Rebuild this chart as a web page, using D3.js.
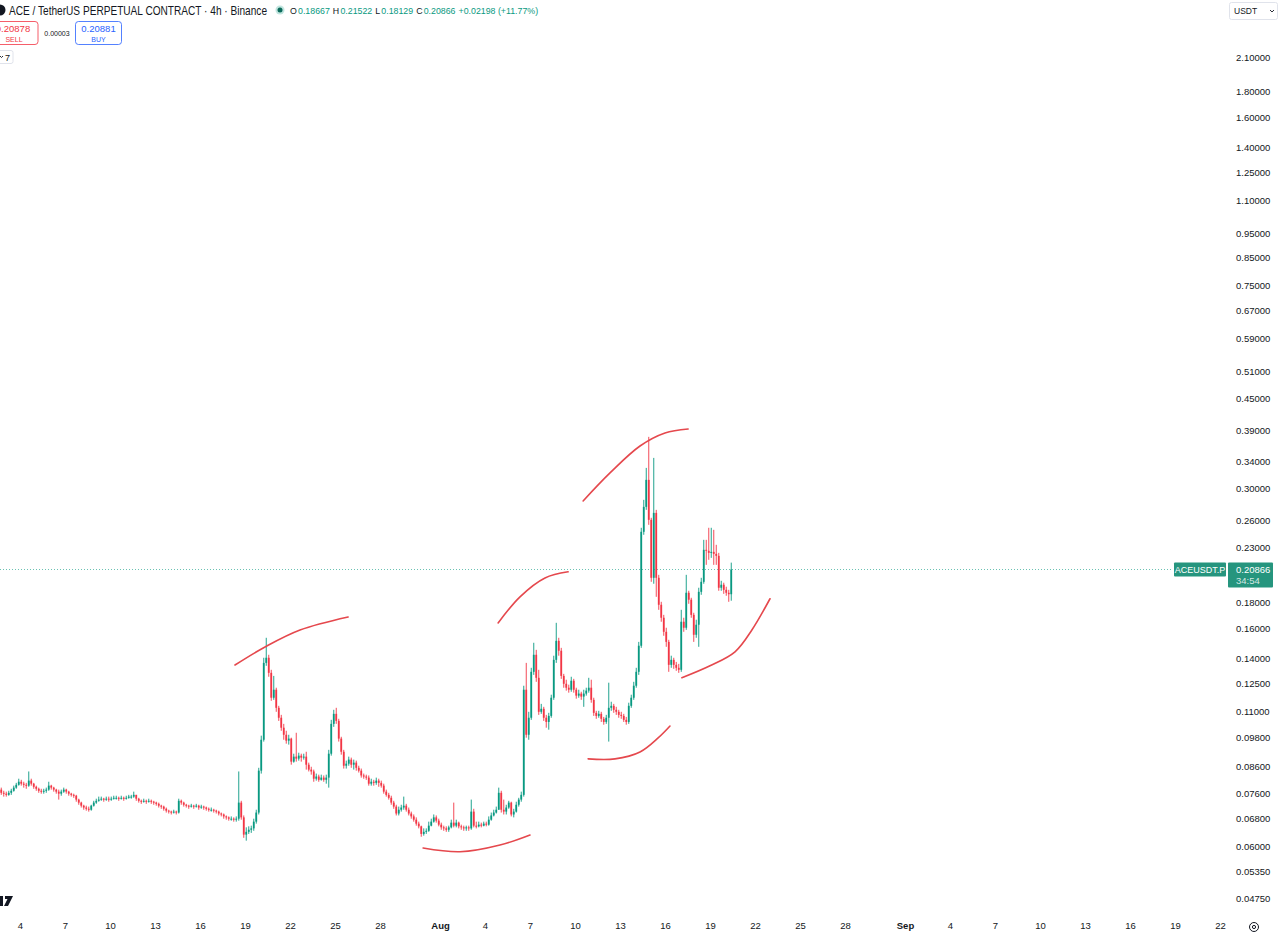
<!DOCTYPE html>
<html>
<head>
<meta charset="utf-8">
<script src="https://cdn.jsdelivr.net/npm/d3@7"></script>
<style>
  body { margin: 0; background: #fff; overflow: hidden; }
  svg { display: block; font-family: "Liberation Sans", Arial, sans-serif; }
</style>
</head>
<body>
<svg id="vis"></svg>
<script>
  const W = 1280, H = 935

  // 4h candles, first one opens Jul 2 16:00 (UTC)
  const firstCandle = '2024-07-02T16:00Z'
  const firstOpen = 0.0774
  const closes = [
    0.0763,0.0760,0.0756,0.0763,0.0770,0.0781,0.0791,0.0802,0.0795,0.0791,
    0.0788,0.0806,0.0795,0.0784,0.0777,0.0770,0.0767,0.0770,0.0774,0.0788,
    0.0781,0.0774,0.0767,0.0760,0.0767,0.0774,0.0767,0.0760,0.0756,0.0753,
    0.0740,0.0730,0.0720,0.0714,0.0710,0.0707,0.0720,0.0730,0.0736,0.0740,
    0.0743,0.0740,0.0743,0.0740,0.0743,0.0746,0.0746,0.0743,0.0746,0.0743,
    0.0746,0.0750,0.0750,0.0756,0.0743,0.0736,0.0733,0.0736,0.0733,0.0736,
    0.0733,0.0730,0.0726,0.0720,0.0717,0.0710,0.0704,0.0701,0.0698,0.0701,
    0.0698,0.0736,0.0730,0.0723,0.0720,0.0717,0.0720,0.0717,0.0720,0.0714,
    0.0717,0.0714,0.0710,0.0707,0.0707,0.0704,0.0701,0.0695,0.0692,0.0686,
    0.0683,0.0679,0.0679,0.0676,0.0679,0.0730,0.0683,0.0632,0.0640,0.0646,
    0.0650,0.0670,0.0698,0.0843,0.0969,0.1370,0.1402,0.1310,0.1171,0.1214,
    0.1119,0.1070,0.1023,0.0991,0.0965,0.0974,0.0878,0.0898,0.0890,0.0902,
    0.0894,0.0898,0.0866,0.0847,0.0840,0.0813,0.0821,0.0809,0.0817,0.0809,
    0.0817,0.0910,0.1041,0.1089,0.1055,0.0974,0.0918,0.0862,0.0870,0.0886,
    0.0866,0.0874,0.0854,0.0843,0.0825,0.0821,0.0817,0.0795,0.0802,0.0798,
    0.0806,0.0798,0.0788,0.0767,0.0756,0.0746,0.0730,0.0717,0.0695,0.0707,
    0.0714,0.0720,0.0707,0.0695,0.0686,0.0676,0.0664,0.0656,0.0634,0.0640,
    0.0643,0.0658,0.0670,0.0683,0.0673,0.0661,0.0653,0.0650,0.0646,0.0653,
    0.0667,0.0658,0.0667,0.0656,0.0653,0.0650,0.0653,0.0650,0.0701,0.0658,
    0.0656,0.0661,0.0658,0.0664,0.0661,0.0676,0.0689,0.0698,0.0707,0.0763,
    0.0707,0.0701,0.0714,0.0730,0.0692,0.0701,0.0723,0.0740,0.0756,0.1214,
    0.0991,0.1070,0.1316,0.1421,0.1281,0.1099,0.1114,0.1070,0.1050,0.1079,
    0.1171,0.1389,0.1513,0.1447,0.1292,0.1247,0.1225,0.1214,0.1264,0.1214,
    0.1182,0.1193,0.1177,0.1193,0.1209,0.1225,0.1160,0.1094,0.1079,0.1089,
    0.1065,0.1050,0.1070,0.1119,0.1129,0.1109,0.1099,0.1084,0.1079,0.1060,
    0.1050,0.1129,0.1171,0.1236,0.1316,0.1480,0.2473,0.2767,0.3125,0.2610,
    0.2010,0.2693,0.2010,0.1780,0.1679,0.1576,0.1506,0.1358,0.1389,0.1358,
    0.1340,0.1328,0.1649,0.1605,0.1879,0.1821,0.1701,0.1555,0.1627,0.1887,
    0.1974,0.2280,0.2270,0.2249,0.2259,0.2239,0.2219,0.1922,0.1948,0.1904,
    0.1879,0.18667,0.20866
  ]
  const highs = [
    0.0781,0.0770,0.0767,0.0770,0.0777,0.0788,0.0798,0.0813,0.0809,0.0802,
    0.0798,0.0840,0.0813,0.0798,0.0788,0.0781,0.0777,0.0777,0.0781,0.0802,
    0.0791,0.0784,0.0777,0.0774,0.0774,0.0781,0.0777,0.0770,0.0763,0.0760,
    0.0756,0.0743,0.0733,0.0723,0.0720,0.0717,0.0723,0.0736,0.0743,0.0750,
    0.0750,0.0746,0.0750,0.0750,0.0750,0.0753,0.0753,0.0750,0.0753,0.0750,
    0.0753,0.0756,0.0756,0.0767,0.0756,0.0746,0.0740,0.0743,0.0740,0.0743,
    0.0740,0.0736,0.0733,0.0730,0.0723,0.0720,0.0714,0.0707,0.0704,0.0707,
    0.0704,0.0743,0.0740,0.0733,0.0726,0.0723,0.0726,0.0723,0.0726,0.0723,
    0.0723,0.0720,0.0717,0.0714,0.0714,0.0710,0.0707,0.0704,0.0698,0.0695,
    0.0689,0.0686,0.0686,0.0683,0.0686,0.0840,0.0736,0.0689,0.0653,0.0656,
    0.0658,0.0679,0.0707,0.0854,0.0987,0.1402,0.1534,0.1421,0.1328,0.1292,
    0.1225,0.1129,0.1084,0.1041,0.1009,0.0991,0.0978,0.0910,0.1000,0.0914,
    0.0910,0.0910,0.0918,0.0874,0.0858,0.0847,0.0832,0.0828,0.0828,0.0825,
    0.0828,0.0926,0.1060,0.1109,0.1119,0.1065,0.0982,0.0926,0.0882,0.0898,
    0.0894,0.0886,0.0882,0.0862,0.0851,0.0832,0.0828,0.0825,0.0813,0.0809,
    0.0817,0.0813,0.0806,0.0795,0.0774,0.0763,0.0753,0.0736,0.0723,0.0717,
    0.0723,0.0750,0.0726,0.0714,0.0701,0.0692,0.0683,0.0670,0.0658,0.0650,
    0.0650,0.0670,0.0679,0.0692,0.0689,0.0679,0.0667,0.0658,0.0656,0.0658,
    0.0676,0.0730,0.0676,0.0670,0.0661,0.0658,0.0658,0.0658,0.0740,0.0710,
    0.0670,0.0670,0.0667,0.0670,0.0670,0.0686,0.0698,0.0707,0.0717,0.0781,
    0.0770,0.0740,0.0723,0.0736,0.0733,0.0710,0.0733,0.0746,0.0767,0.1236,
    0.1370,0.1099,0.1340,0.1500,0.1453,0.1328,0.1139,0.1124,0.1084,0.1094,
    0.1187,0.1415,0.1641,0.1534,0.1466,0.1304,0.1270,0.1242,0.1287,0.1275,
    0.1225,0.1214,0.1203,0.1214,0.1225,0.1281,0.1270,0.1171,0.1104,0.1104,
    0.1099,0.1074,0.1084,0.1253,0.1150,0.1139,0.1124,0.1109,0.1099,0.1089,
    0.1074,0.1145,0.1187,0.1258,0.1340,0.1506,0.2518,0.2856,0.3298,0.3793,
    0.2634,0.3450,0.2730,0.2037,0.1804,0.1701,0.1605,0.1520,0.1415,0.1402,
    0.1376,0.1364,0.1740,0.1679,0.2037,0.1896,0.1837,0.1717,0.1664,0.1922,
    0.2010,0.2385,0.2385,0.2518,0.2518,0.2495,0.2332,0.2249,0.1983,0.1966,
    0.1931,0.1904,0.21522
  ]
  const lows = [
    0.0756,0.0750,0.0750,0.0753,0.0756,0.0767,0.0777,0.0788,0.0788,0.0781,
    0.0777,0.0784,0.0788,0.0777,0.0770,0.0763,0.0760,0.0760,0.0763,0.0770,
    0.0774,0.0767,0.0760,0.0740,0.0753,0.0763,0.0760,0.0753,0.0750,0.0746,
    0.0733,0.0723,0.0714,0.0707,0.0704,0.0701,0.0704,0.0717,0.0726,0.0733,
    0.0736,0.0733,0.0736,0.0733,0.0736,0.0740,0.0740,0.0736,0.0740,0.0736,
    0.0740,0.0743,0.0743,0.0746,0.0736,0.0730,0.0726,0.0730,0.0726,0.0730,
    0.0726,0.0723,0.0720,0.0714,0.0710,0.0704,0.0698,0.0695,0.0692,0.0695,
    0.0692,0.0695,0.0723,0.0717,0.0714,0.0710,0.0714,0.0710,0.0714,0.0707,
    0.0710,0.0707,0.0704,0.0701,0.0701,0.0698,0.0695,0.0689,0.0686,0.0679,
    0.0676,0.0673,0.0673,0.0670,0.0670,0.0673,0.0676,0.0623,0.0615,0.0634,
    0.0637,0.0643,0.0664,0.0692,0.0832,0.0961,0.1352,0.1287,0.1155,0.1160,
    0.1099,0.1055,0.1009,0.0969,0.0952,0.0948,0.0866,0.0874,0.0878,0.0882,
    0.0878,0.0886,0.0847,0.0840,0.0828,0.0802,0.0806,0.0802,0.0806,0.0802,
    0.0795,0.0781,0.0902,0.1027,0.1041,0.0961,0.0906,0.0851,0.0851,0.0862,
    0.0854,0.0847,0.0843,0.0836,0.0817,0.0813,0.0809,0.0788,0.0788,0.0788,
    0.0791,0.0784,0.0781,0.0760,0.0750,0.0740,0.0723,0.0710,0.0689,0.0689,
    0.0701,0.0707,0.0701,0.0689,0.0679,0.0670,0.0658,0.0650,0.0626,0.0629,
    0.0634,0.0640,0.0656,0.0667,0.0667,0.0656,0.0646,0.0643,0.0640,0.0640,
    0.0650,0.0653,0.0653,0.0650,0.0646,0.0643,0.0643,0.0643,0.0646,0.0653,
    0.0650,0.0653,0.0653,0.0656,0.0656,0.0658,0.0673,0.0686,0.0695,0.0707,
    0.0698,0.0692,0.0692,0.0710,0.0686,0.0683,0.0698,0.0717,0.0733,0.0750,
    0.0978,0.0969,0.1060,0.1298,0.1258,0.1084,0.1089,0.1055,0.1023,0.1014,
    0.1070,0.1160,0.1370,0.1415,0.1275,0.1225,0.1209,0.1198,0.1203,0.1198,
    0.1166,0.1171,0.1160,0.1124,0.1182,0.1198,0.1145,0.1079,0.1065,0.1070,
    0.1050,0.1037,0.1041,0.0961,0.1104,0.1094,0.1084,0.1070,0.1065,0.1050,
    0.1037,0.1041,0.1119,0.1160,0.1225,0.1298,0.1466,0.2440,0.2730,0.2552,
    0.1974,0.1957,0.1845,0.1740,0.1649,0.1548,0.1473,0.1316,0.1340,0.1334,
    0.1322,0.1310,0.1316,0.1576,0.1590,0.1788,0.1679,0.1506,0.1534,0.1473,
    0.1862,0.1957,0.2131,0.2180,0.2199,0.2131,0.2131,0.1896,0.1896,0.1870,
    0.1854,0.1804,0.18129
  ]

  // header legend of the last candle
  const legendOHLC = [['O', '0.18667'], ['H', '0.21522'], ['L', '0.18129'], ['C', '0.20866']]
  const legendChange = '+0.02198 (+11.77%)'
  const sellPrice = '0.20878', buyPrice = '0.20881', spread = '0.00003'

  // right price scale labels
  const priceTicks = [2.1, 1.8, 1.6, 1.4, 1.25, 1.1, 0.95, 0.85, 0.75, 0.67, 0.59, 0.51, 0.45,
    0.39, 0.34, 0.30, 0.26, 0.23, 0.18, 0.16, 0.14, 0.125, 0.11, 0.098, 0.086, 0.076,
    0.068, 0.06, 0.0535, 0.0475]
  // time scale labels
  const dateTicks = ['2024-07-04','2024-07-07','2024-07-10','2024-07-13','2024-07-16','2024-07-19',
    '2024-07-22','2024-07-25','2024-07-28','2024-08-01','2024-08-04','2024-08-07','2024-08-10',
    '2024-08-13','2024-08-16','2024-08-19','2024-08-22','2024-08-25','2024-08-28','2024-09-01',
    '2024-09-04','2024-09-07','2024-09-10','2024-09-13','2024-09-16','2024-09-19','2024-09-22']

  // hand drawn red arcs [time, price]
  const arcs = [
    [['2024-07-18T08:00Z',0.1357],['2024-07-20T08:00Z',0.1472],['2024-07-22T16:00Z',0.1589],['2024-07-25T21:00Z',0.1685]],
    [['2024-07-30T21:00Z',0.0595],['2024-08-02T08:00Z',0.0585],['2024-08-05T00:00Z',0.0603],['2024-08-07T00:00Z',0.0631]],
    [['2024-08-04T21:00Z',0.164],['2024-08-06T08:00Z',0.1845],['2024-08-08T00:00Z',0.2009],['2024-08-09T13:00Z',0.2065]],
    [['2024-08-10T13:00Z',0.2842],['2024-08-12T08:00Z',0.3224],['2024-08-14T08:00Z',0.364],['2024-08-16T00:00Z',0.386],['2024-08-17T13:00Z',0.393]],
    [['2024-08-10T21:00Z',0.0889],['2024-08-12T16:00Z',0.0889],['2024-08-14T08:00Z',0.0917],['2024-08-15T13:00Z',0.0977],['2024-08-16T08:00Z',0.1031]],
    [['2024-08-17T03:00Z',0.1281],['2024-08-19T00:00Z',0.1352],['2024-08-20T16:00Z',0.144],['2024-08-21T19:00Z',0.1589],['2024-08-23T00:00Z',0.1829]]
  ]

  const lastPrice = 0.20866
  const upColor = '#089981', downColor = '#f23645', textColor = '#131722'

  var svg = d3.select('#vis').attr('width', W).attr('height', H)

  var x = d3.scaleUtc()
    .domain([new Date('2024-07-04T00:00Z'), new Date('2024-09-22T00:00Z')])
    .range([20, 1220])
  var y = d3.scaleLog()
    .domain([0.0475, 2.1])
    .range([898, 57])

  const step = 4 * 3600e3
  const t0 = new Date(firstCandle).getTime()
  var candles = closes.map(function (c, i) {
    var o = i ? closes[i - 1] : firstOpen
    return {
      t: new Date(t0 + i * step + step / 2),
      o: o, c: c,
      h: Math.max(highs[i], o, c),
      l: Math.min(lows[i], o, c)
    }
  })

  svg.append('clipPath').attr('id', 'plot')
    .append('rect').attr('x', 0).attr('y', 0).attr('width', 1226).attr('height', 912)

  var plot = svg.append('g').attr('clip-path', 'url(#plot)')

  // last price dotted line
  plot.append('line')
    .attr('x1', 0).attr('x2', 1173)
    .attr('y1', y(lastPrice)).attr('y2', y(lastPrice))
    .attr('stroke', upColor).attr('stroke-opacity', 0.6)
    .attr('stroke-width', 1).attr('stroke-dasharray', '1,2')

  // Candles
  var cg = plot.append('g')
  cg.selectAll('line.wick').data(candles).enter().append('line')
    .attr('class', 'wick')
    .attr('x1', d => x(d.t)).attr('x2', d => x(d.t))
    .attr('y1', d => y(d.h)).attr('y2', d => y(d.l))
    .attr('stroke', d => d.c >= d.o ? upColor : downColor)
    .attr('stroke-width', 0.9)
  cg.selectAll('rect.body').data(candles).enter().append('rect')
    .attr('class', 'body')
    .attr('x', d => x(d.t) - 0.9)
    .attr('width', 1.8)
    .attr('y', d => y(Math.max(d.o, d.c)))
    .attr('height', d => Math.max(1, Math.abs(y(d.o) - y(d.c))))
    .attr('fill', d => d.c >= d.o ? upColor : downColor)

  // Drawings
  var arcLine = d3.line()
    .x(d => x(new Date(d[0])))
    .y(d => y(d[1]))
    .curve(d3.curveCatmullRom)
  plot.selectAll('path.arc').data(arcs).enter().append('path')
    .attr('class', 'arc')
    .attr('d', arcLine)
    .attr('fill', 'none')
    .attr('stroke', '#e5484d')
    .attr('stroke-width', 1.6)
    .attr('stroke-linecap', 'round')

  // Price axis
  var yAxis = svg.append('g')
    .attr('transform', 'translate(1236,0)')
    .call(d3.axisRight(y).tickValues(priceTicks).tickFormat(d3.format('.5f')).tickSize(0).tickPadding(0))
  yAxis.select('.domain').remove()
  yAxis.selectAll('text')
    .attr('fill', textColor)
    .style('font-size', '9.5px')
    .style('font-family', '"Liberation Sans", Arial, sans-serif')

  // Time axis
  var fmtMonth = d3.utcFormat('%b'), fmtDay = d3.utcFormat('%-d')
  var xAxis = svg.append('g')
    .attr('transform', 'translate(0,924)')
    .call(d3.axisBottom(x)
      .tickValues(dateTicks.map(s => new Date(s + 'T00:00Z')))
      .tickFormat(d => d.getUTCDate() === 1 ? fmtMonth(d) : fmtDay(d))
      .tickSize(0).tickPadding(0))
  xAxis.select('.domain').remove()
  xAxis.selectAll('text')
    .attr('fill', textColor)
    .attr('dy', '0.55em')
    .style('font-size', '9.5px')
    .style('font-family', '"Liberation Sans", Arial, sans-serif')
    .style('font-weight', d => d.getUTCDate() === 1 ? 'bold' : 'normal')

  // settings icon
  svg.append('circle').attr('cx', 1254).attr('cy', 927).attr('r', 4.5)
    .attr('fill', 'none').attr('stroke', textColor).attr('stroke-width', 1)
  svg.append('circle').attr('cx', 1254).attr('cy', 927).attr('r', 1.6)
    .attr('fill', 'none').attr('stroke', textColor).attr('stroke-width', 1)

  // logo bit bottom-left (cut at the edge)
  svg.append('path')
    .attr('d', 'M-3,896 H3 V906 H-1 V899 H-3 Z M5,896 H13 L8,906 H4 L7.5,899 H5 Z')
    .attr('fill', textColor)

  // last price labels
  var lp = y(lastPrice)
  svg.append('rect').attr('x', 1174).attr('y', lp - 7).attr('width', 52).attr('height', 14)
    .attr('rx', 1).attr('fill', '#26957e')
  svg.append('text').attr('x', 1200).attr('y', lp + 3.5).attr('text-anchor', 'middle')
    .attr('font-size', 9).attr('fill', '#fff').text('ACEUSDT.P')
  svg.append('rect').attr('x', 1228).attr('y', lp - 7).attr('width', 45).attr('height', 25)
    .attr('rx', 1).attr('fill', '#26957e')
  svg.append('text').attr('x', 1236).attr('y', lp + 3.5)
    .attr('font-size', 9.5).attr('fill', '#fff').text(d3.format('.5f')(lastPrice))
  svg.append('text').attr('x', 1236).attr('y', lp + 14.5)
    .attr('font-size', 9.5).attr('fill', '#fff').attr('fill-opacity', 0.8).text('34:54')

  // currency dropdown
  svg.append('rect').attr('x', 1229.5).attr('y', 2.5).attr('width', 48).attr('height', 17)
    .attr('rx', 2).attr('fill', '#fff').attr('stroke', '#e0e3eb')
  svg.append('text').attr('x', 1234).attr('y', 14).attr('font-size', 8.5)
    .attr('fill', textColor).text('USDT')
  svg.append('path').attr('d', 'M1270,10 l2,2 l2,-2').attr('fill', 'none')
    .attr('stroke', textColor).attr('stroke-width', 0.9)

  // Header
  svg.append('circle').attr('cx', 0).attr('cy', 10).attr('r', 5.5).attr('fill', textColor)
  svg.append('text').attr('x', 9).attr('y', 15)
    .attr('font-size', 13).attr('fill', textColor)
    .attr('textLength', 258).attr('lengthAdjust', 'spacingAndGlyphs')
    .text('ACE / TetherUS PERPETUAL CONTRACT · 4h · Binance')
  svg.append('circle').attr('cx', 280).attr('cy', 10).attr('r', 4.5).attr('fill', upColor).attr('fill-opacity', 0.25)
  svg.append('circle').attr('cx', 280).attr('cy', 10).attr('r', 2.5).attr('fill', '#0b6b5b')

  // legend pieces laid out one after another
  var legendParts = []
  legendOHLC.forEach(function (p) {
    legendParts.push([p[0], textColor, 1.2])
    legendParts.push([p[1], upColor, 3])
  })
  legendParts.push([legendChange, upColor, 0])
  var lx = 290
  legendParts.forEach(function (p) {
    var t = svg.append('text').attr('x', lx).attr('y', 14)
      .attr('font-size', 8.8).attr('fill', p[1]).text(p[0])
    lx += t.node().getComputedTextLength() + p[2]
  })

  // sell / buy boxes
  svg.append('rect').attr('x', -6).attr('y', 21.5).attr('width', 44).attr('height', 23)
    .attr('rx', 3).attr('fill', '#fff').attr('stroke', downColor).attr('stroke-opacity', 0.8)
  svg.append('text').attr('x', 13).attr('y', 32).attr('text-anchor', 'middle')
    .attr('font-size', 9.5).attr('fill', downColor).text(sellPrice)
  svg.append('text').attr('x', 14).attr('y', 41.5).attr('text-anchor', 'middle')
    .attr('font-size', 7).attr('fill', downColor).text('SELL')
  svg.append('text').attr('x', 57).attr('y', 35.5).attr('text-anchor', 'middle')
    .attr('font-size', 7).attr('fill', textColor).text(spread)
  svg.append('rect').attr('x', 75.5).attr('y', 21.5).attr('width', 46).attr('height', 23)
    .attr('rx', 3).attr('fill', '#fff').attr('stroke', '#2962ff').attr('stroke-opacity', 0.8)
  svg.append('text').attr('x', 98.5).attr('y', 32).attr('text-anchor', 'middle')
    .attr('font-size', 9.5).attr('fill', '#2962ff').text(buyPrice)
  svg.append('text').attr('x', 98.5).attr('y', 41.5).attr('text-anchor', 'middle')
    .attr('font-size', 7).attr('fill', '#2962ff').text('BUY')

  // collapsed indicators
  svg.append('rect').attr('x', -4).attr('y', 50.5).attr('width', 17).attr('height', 13)
    .attr('rx', 2).attr('fill', '#fff').attr('stroke', '#e0e3eb')
  svg.append('path').attr('d', 'M0,56 l1.5,1.5 l1.5,-1.5').attr('fill', 'none')
    .attr('stroke', textColor).attr('stroke-width', 0.9)
  svg.append('text').attr('x', 5).attr('y', 60.5).attr('font-size', 9)
    .attr('fill', textColor).text('7')
</script>
</body>
</html>
